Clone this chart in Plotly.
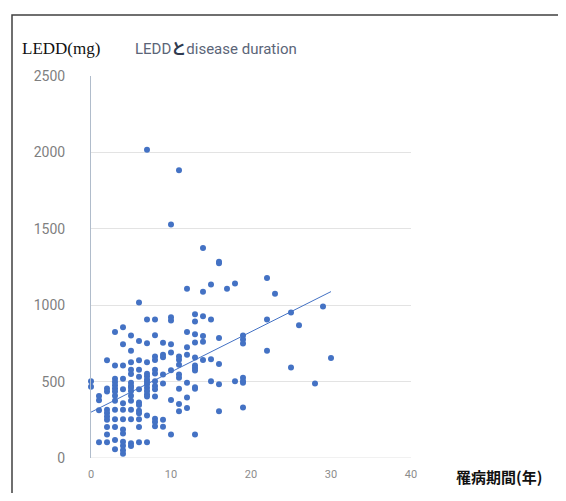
import numpy as np
import plotly.graph_objects as go

# Disease duration (years) -> LEDD (mg) values
duration_years = {
    0: [503, 467],
    1: [405, 378, 312, 103],
    2: [640, 455, 435, 315, 294, 272, 251, 203, 154, 103],
    3: [824, 606, 519, 497, 476, 455, 435, 407, 375, 315, 253, 203, 118, 58],
    4: [856, 745, 606, 519, 450, 358, 315, 253, 186, 160, 107, 80, 50, 28],
    5: [801, 702, 627, 578, 550, 493, 471, 460, 439, 407, 375, 315, 253, 96, 79],
    6: [1017, 766, 640, 578, 531, 450, 364, 347, 310, 293, 253, 203, 103],
    7: [2018, 906, 751, 627, 552, 535, 514, 499, 482, 460, 439, 418, 403, 278, 103],
    8: [906, 803, 664, 641, 578, 553, 503, 471, 450, 403, 257, 236, 208],
    9: [754, 675, 660, 546, 488, 251, 204],
    10: [1528, 921, 900, 745, 690, 574, 379, 154],
    11: [1883, 664, 643, 611, 546, 525, 454, 353, 306],
    12: [1108, 824, 724, 675, 493, 396, 328],
    13: [940, 893, 810, 756, 657, 606, 589, 572, 463, 454, 154],
    14: [1375, 1088, 927, 799, 760, 642],
    15: [1135, 906, 647, 503],
    16: [1285, 1275, 786, 615, 482, 306],
    17: [1108],
    18: [1142, 503],
    19: [801, 775, 749, 525, 503, 492, 330],
    22: [1178, 906, 702],
    23: [1075],
    25: [953, 593],
    26: [868],
    28: [488],
    29: [992],
    30: [654],
}

# Linear trendline as drawn in the reference (LEDD = intercept + slope * years)
TREND_INTERCEPT = 300
TREND_SLOPE = 26.3

y_ticks = [0, 500, 1000, 1500, 2000, 2500]
x_ticks = [0, 10, 20, 30, 40]

x_vals = []
y_vals = []
for yr, vals in duration_years.items():
    for v in vals:
        x_vals.append(yr)
        y_vals.append(v)
x_vals = np.array(x_vals, dtype=float)
y_vals = np.array(y_vals, dtype=float)

trend_x = np.array([x_vals.min(), x_vals.max()])
trend_y = TREND_INTERCEPT + TREND_SLOPE * trend_x

BLUE = "#4472C4"

# figure sits inside the page's 8px body margin
W, H = 558, 485
L, T = 83, 68
PW, PH = 320, 389

fig = go.Figure()
fig.add_trace(go.Scatter(
    x=x_vals, y=y_vals, mode="markers",
    marker=dict(color=BLUE, size=6, line=dict(width=0)),
    showlegend=False, hoverinfo="x+y", cliponaxis=False,
))
fig.add_trace(go.Scatter(
    x=trend_x, y=trend_y, mode="lines",
    line=dict(color=BLUE, width=1),
    showlegend=False, hoverinfo="skip",
))


def px(xw):  # window x -> paper x
    return (xw - 8 - L) / PW


def py(yw):  # window y -> paper y
    return (T + PH - (yw - 8)) / PH


frame_path = "M {x0},{yb} L {x0},{yt} L {xr},{yt}".format(
    x0=px(12), yb=py(600), yt=py(14), xr=px(700))

fig.update_layout(
    width=W, height=H,
    margin=dict(l=L, r=W - L - PW, t=T, b=H - T - PH),
    paper_bgcolor="white", plot_bgcolor="white",
    font=dict(family="Roboto, Noto Sans, sans-serif", color="#7F7F7F"),
    xaxis=dict(
        range=[0, 40], tickvals=x_ticks, showgrid=False, zeroline=False,
        showline=False, ticks="", tickfont=dict(size=11, color="#8C8C8C"),
        ticklabelstandoff=8,
    ),
    yaxis=dict(
        range=[0, 2500], tickvals=y_ticks, showgrid=True, gridcolor="#E3E3E3",
        gridwidth=1, zeroline=False, showline=True, linecolor="#B0BCCB",
        linewidth=1, ticks="", tickfont=dict(size=14, color="#7F7F7F"),
        ticklabelstandoff=22,
    ),
    shapes=[
        dict(type="path", xref="paper", yref="paper", path=frame_path,
             line=dict(color="#404040", width=1.5), layer="below"),
        dict(type="line", xref="paper", yref="y", x0=0, x1=1, y0=0, y1=0,
             line=dict(color="#E3E3E3", width=1), layer="below"),
    ],
    annotations=[
        dict(text="LEDD(mg)", xref="paper", yref="paper",
             x=px(20), y=py(48), xanchor="left", yanchor="middle",
             showarrow=False,
             font=dict(family="Liberation Serif, serif", size=17, color="#111111")),
        dict(text="LEDD<b style='color:#2F3A4F'>と</b>disease duration",
             xref="paper", yref="paper",
             x=px(133), y=py(48), xanchor="left", yanchor="middle",
             showarrow=False,
             font=dict(family="Roboto, Noto Sans CJK JP, sans-serif", size=15,
                       color="#5B6578")),
        dict(text="<b>罹病期間(年)</b>", xref="paper", yref="paper",
             x=px(454), y=py(484), xanchor="left", yanchor="middle",
             showarrow=False,
             font=dict(family="Noto Sans CJK JP, sans-serif", size=15, color="#111111")),
    ],
)

fig.write_html("out.html")
